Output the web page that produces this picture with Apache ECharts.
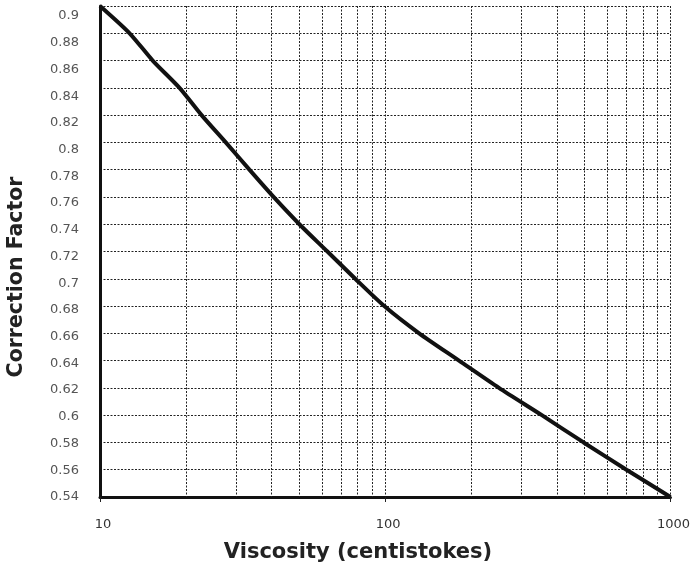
<!DOCTYPE html>
<html>
<head>
<meta charset="utf-8">
<script src="https://cdn.jsdelivr.net/npm/echarts@6/dist/echarts.min.js"></script>
<style>html,body{margin:0;padding:0;background:#fff}#c{width:693px;height:567px}</style>
</head>
<body>
<div id="c"></div>
<script>
// Viscosity (cSt) vs correction factor
const viscosity = [10, 12.7, 15.3, 19.0, 22.7, 27.6, 33.4, 40.6, 50, 62.7, 78.5, 99.2, 131.5, 181.4, 250.4, 354, 496, 701, 1000];
const factor    = [0.9, 0.88, 0.86, 0.84, 0.82, 0.80, 0.78, 0.76, 0.74, 0.72, 0.70, 0.68, 0.66, 0.64, 0.62, 0.60, 0.58, 0.56, 0.54];
// minor vertical gridlines of the log paper
const minorX = [20, 30, 40, 50, 60, 70, 80, 90, 200, 300, 400, 500, 600, 700, 800, 900];
const yMin = 0.54, yMax = 0.9, yStep = 0.02;
// the printed y tick labels sit on a slightly compressed scale in the reference
const yLabelMax = 0.9075;
const xTitle = 'Viscosity (centistokes)';
const yTitle = 'Correction Factor';

const chart = echarts.init(document.getElementById('c'));
const dotted = { color: '#222', width: 1, type: [2, 1.5] };
const option = {
  animation: false,
  grid: { left: 100, right: 21, top: 6, bottom: 70, containLabel: false },
  xAxis: {
    type: 'log', logBase: 10, min: 10, max: 1000,
    axisLine: { show: true, onZero: false, lineStyle: { color: '#111', width: 3 } },
    axisTick: { show: true, length: 5, lineStyle: { color: '#222', width: 1 } },
    axisLabel: { margin: 21, color: '#333', fontFamily: '"DejaVu Sans"', fontSize: 13, padding: [0, 0, 0, 6],
      formatter: v => String(Math.round(v)) },
    splitLine: { show: true, lineStyle: dotted }
  },
  yAxis: [{
    type: 'value', min: yMin, max: yMax, interval: yStep, position: 'left',
    axisLine: { show: true, lineStyle: { color: '#111', width: 3 } },
    axisTick: { show: false },
    axisLabel: { show: false },
    splitLine: { show: true, lineStyle: dotted }
  }, {
    type: 'value', min: yMin, max: yLabelMax, interval: yStep, position: 'left', offset: 0,
    axisLine: { show: false }, axisTick: { show: false }, splitLine: { show: false },
    axisLabel: { margin: 21, color: '#555', fontFamily: '"DejaVu Sans"', fontSize: 13,
      formatter: v => Math.abs(v / yStep - Math.round(v / yStep)) < 1e-6 ? String(+v.toFixed(2)) : '' }
  }],
  series: [{
    type: 'line',
    data: viscosity.map((v, i) => [v, factor[i]]),
    showSymbol: false,
    smooth: 0.25,
    clip: false,
    lineStyle: { color: '#111', width: 4 },
    markLine: {
      silent: true, symbol: 'none', label: { show: false },
      lineStyle: dotted,
      data: minorX.map(x => [{ coord: [x, yMax] }, { coord: [x, yMin] }])
    },
    z: 5
  }, {
    type: 'line', data: [], clip: false,
    markLine: {
      silent: true, symbol: 'none', label: { show: false },
      lineStyle: { color: '#222', width: 1, type: 'solid' },
      data: minorX.map(x => [{ coord: [x, yMin] }, { coord: [x, yMin - 0.004] }])
    }
  }],
  graphic: [
    { type: 'text', x: 358, y: 553, style: { text: xTitle, font: 'bold 21px "DejaVu Sans"', fill: '#222', align: 'center', verticalAlign: 'middle' } },
    { type: 'text', x: 17, y: 277, rotation: Math.PI / 2, style: { text: yTitle, font: 'bold 20.5px "DejaVu Sans"', fill: '#222', align: 'center', verticalAlign: 'middle' } }
  ]
};
chart.setOption(option);
</script>
</body>
</html>
